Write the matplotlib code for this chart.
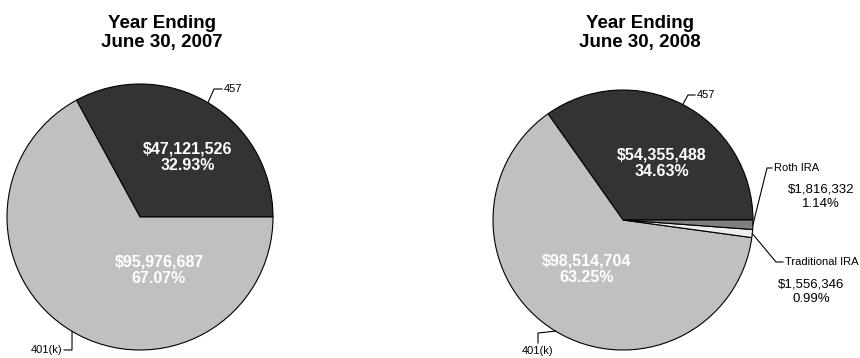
import matplotlib
matplotlib.use('Agg')
import matplotlib.pyplot as plt
import numpy as np

plt.rcParams['font.family'] = ['Liberation Sans', 'DejaVu Sans']

# ---------------- data ----------------
titles = ['Year Ending\nJune 30, 2007', 'Year Ending\nJune 30, 2008']

cats_2007 = ['457', '401(k)']
vals_2007 = [47121526, 95976687]
pcts_2007 = [32.93, 67.07]

cats_2008 = ['457', '401(k)', 'Traditional IRA', 'Roth IRA']
vals_2008 = [54355488, 98514704, 1556346, 1816332]
pcts_2008 = [34.63, 63.25, 0.99, 1.14]

colors = {'457': '#333333', '401(k)': '#c0c0c0',
          'Traditional IRA': '#eeeeee', 'Roth IRA': '#808080'}

# ---------------- layout (pixels) ----------------
W, H = 860, 358
fig = plt.figure(figsize=(W / 100, H / 100), dpi=100)


def make_ax(cx, cy, r):
    return fig.add_axes([(cx - r) / W, (H - cy - r) / H, 2 * r / W, 2 * r / H])


def money(v):
    return '${:,}'.format(v)


pies = [
    dict(cx=140, cy=217, r=133, title_x=162, cats=cats_2007, vals=vals_2007, pcts=pcts_2007,
         inside={'457': (188, 157), '401(k)': (159, 270)},
         leaders={'457': dict(elbow=(214, 89), end=(222, 89), text=(224, 89), ha='left'),
                  '401(k)': dict(elbow=(72, 350), end=(64, 350), text=(62, 350), ha='right')},
         outside={}),
    dict(cx=623, cy=220, r=130, title_x=640, cats=cats_2008, vals=vals_2008, pcts=pcts_2008,
         inside={'457': (662, 163), '401(k)': (587, 269)},
         leaders={'457': dict(elbow=(688, 95), end=(695, 95), text=(697, 95), ha='left'),
                  '401(k)': dict(elbow=(538, 333), end=(538, 343), text=(538, 351), ha='center'),
                  'Roth IRA': dict(elbow=(767, 168), end=(772, 168), text=(774, 168), ha='left'),
                  'Traditional IRA': dict(elbow=(776, 262), end=(783, 262), text=(785, 262), ha='left')},
         outside={'Roth IRA': (821, 197), 'Traditional IRA': (811, 292)}),
]

for p in pies:
    cx, cy, r = p['cx'], p['cy'], p['r']
    ax = make_ax(cx, cy, r)
    wedges, _ = ax.pie(p['vals'], colors=[colors[c] for c in p['cats']],
                       startangle=0, counterclock=True, radius=1,
                       wedgeprops=dict(edgecolor='black', linewidth=0.8))
    ax.set_xlim(-1, 1)
    ax.set_ylim(-1, 1)
    ax.set_axis_off()

    def to_d(x, y):
        return ((x - cx) / r, (cy - y) / r)

    for cat, val, pct, w in zip(p['cats'], p['vals'], p['pcts'], wedges):
        if cat in p['inside']:
            tx, ty = to_d(*p['inside'][cat])
            ax.text(tx, ty, f"{money(val)}\n{pct:.2f}%", ha='center', va='center',
                    color='white', fontsize=11.5, fontweight='bold', linespacing=1.12)
        else:
            tx, ty = to_d(*p['outside'][cat])
            ax.text(tx, ty, f"{money(val)}\n{pct:.2f}%", ha='center', va='center',
                    color='black', fontsize=9.5, linespacing=1.25, clip_on=False)
        L = p['leaders'][cat]
        ang = np.deg2rad((w.theta1 + w.theta2) / 2)
        ex, ey = np.cos(ang), np.sin(ang)
        elx, ely = to_d(*L['elbow'])
        enx, eny = to_d(*L['end'])
        ax.plot([ex, elx, enx], [ey, ely, eny], color='black', lw=0.8, clip_on=False,
                solid_joinstyle='miter')
        txx, tyy = to_d(*L['text'])
        ax.text(txx, tyy, cat, ha=L['ha'], va='center', fontsize=8, clip_on=False)

for p, t in zip(pies, titles):
    fig.text(p['title_x'] / W, 1 - 33 / H, t, ha='center', va='center',
             fontsize=13.5, fontweight='bold', linespacing=1.15)

fig.savefig('out.png', dpi=100)
